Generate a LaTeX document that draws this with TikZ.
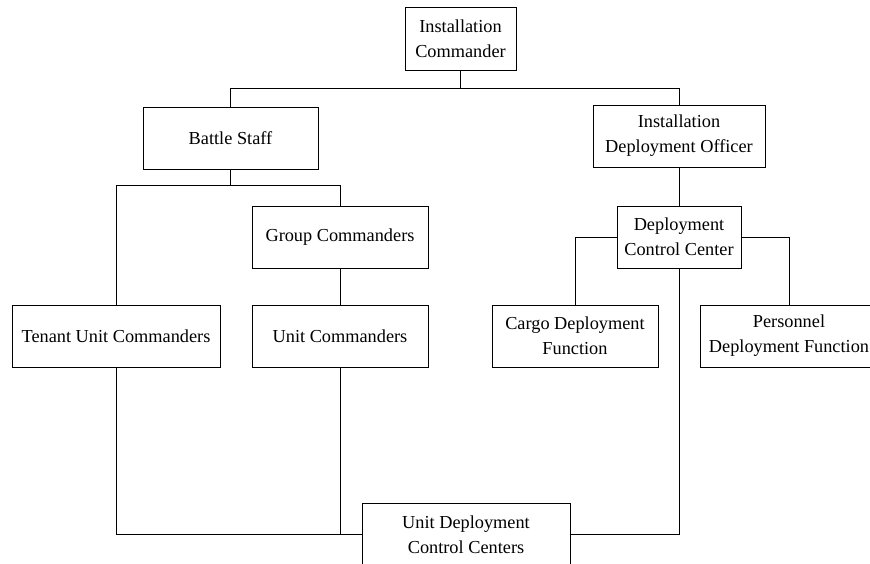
\documentclass[tikz,border=0pt]{standalone}
\usepackage{fontspec}
\setmainfont{Liberation Serif}
\begin{document}
\begin{tikzpicture}[x=1pt,y=-1pt,
  box/.style={draw, line width=0.8pt, rectangle, inner sep=0pt, align=center,
    minimum height=62pt, font=\fontsize{18.3pt}{25pt}\selectfont},
  link/.style={draw, line width=0.8pt}]
\useasboundingbox (0,0) rectangle (870,564);
\clip (0,0) rectangle (870,564);
\node[box, minimum width=111pt, minimum height=63pt] (ic) at (460.5,38.5) {Installation\\Commander};
\node[box, minimum width=175pt] (bs) at (230.5,138) {Battle Staff};
\node[box, minimum width=172pt] (ido) at (679,136) {Installation\\Deployment Officer};
\node[box, minimum width=176pt] (gc) at (340,237) {Group Commanders};
\node[box, minimum width=124pt] (dcc) at (679,237) {Deployment\\Control Center};
\node[box, minimum width=208pt] (tuc) at (116,336) {Tenant Unit Commanders};
\node[box, minimum width=176pt] (uc) at (340,336) {Unit Commanders};
\node[box, minimum width=166pt] (cdf) at (575,336) {Cargo Deployment\\Function};
\node[box, minimum width=178pt] (pdf) at (789,336) {Personnel\\Deployment Function};
\node[box, minimum width=208pt, minimum height=63pt] (udcc) at (466,534.5) {Unit Deployment\\Control Centers};
\coordinate (j1) at (ic.south |- 0,88);
\coordinate (j2) at (bs.south |- 0,185);
\path[link] (ic.south) -- (j1);
\path[link] (j1) -| (bs.north);
\path[link] (j1) -| (ido.north);
\path[link] (bs.south) -- (j2);
\path[link] (j2) -| (tuc.north);
\path[link] (j2) -| (gc.north);
\path[link] (gc.south) -- (uc.north);
\path[link] (tuc.south) |- (udcc.west);
\path[link] (uc.south) -- (uc.south |- udcc.west);
\path[link] (ido.south) -- (dcc.north);
\path[link] (dcc.west) -| (cdf.north);
\path[link] (dcc.east) -| (pdf.north);
\path[link] (dcc.south) |- (udcc.east);
\end{tikzpicture}
\end{document}
